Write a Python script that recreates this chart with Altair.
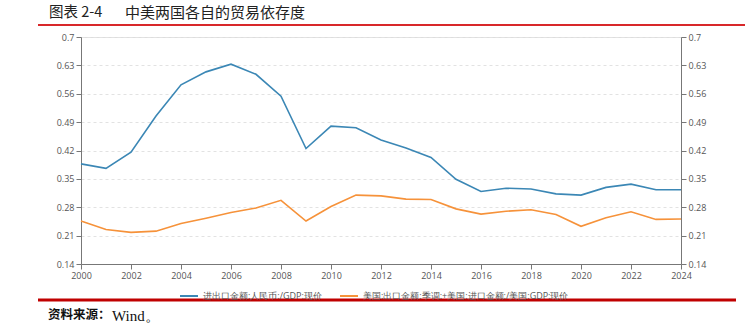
import altair as alt
import pandas as pd

years = list(range(2000, 2025))
china = [0.387, 0.376, 0.416, 0.505, 0.582, 0.614, 0.633, 0.608, 0.554, 0.425,
         0.480, 0.476, 0.446, 0.426, 0.403, 0.349, 0.319, 0.327, 0.325, 0.313,
         0.310, 0.329, 0.337, 0.323, 0.323]
usa = [0.246, 0.225, 0.218, 0.221, 0.240, 0.253, 0.267, 0.278, 0.297, 0.246,
       0.282, 0.310, 0.308, 0.300, 0.299, 0.276, 0.263, 0.270, 0.274, 0.262,
       0.233, 0.254, 0.269, 0.250, 0.251]
series_names = ["进出口金额:人民币:/GDP:现价", "美国:出口金额:季调:+美国:进口金额:/美国:GDP:现价"]
y_ticks = [0.14, 0.21, 0.28, 0.35, 0.42, 0.49, 0.56, 0.63, 0.7]
x_ticks = list(range(2000, 2025, 2))
title_label = "图表 2-4"
title_text = "中美两国各自的贸易依存度"
source_label = "资料来源："
source_value = "Wind。"

df = pd.DataFrame({
    "year": years * 2,
    "value": china + usa,
    "series": [series_names[0]] * len(years) + [series_names[1]] * len(years),
})

font = "Open Sans"
axis_common = dict(
    values=y_ticks, format=".2~f", labelFont=font, labelFontSize=9, labelColor="#555",
    tickColor="#777", domainColor="#777", tickSize=5, title=None, labelPadding=2,
    labelFlush=False,
)
yscale = alt.Scale(domain=[0.14, 0.7], nice=False, zero=False)
xenc = alt.X("year:Q", scale=alt.Scale(domain=[2000, 2024], nice=False, zero=False),
             axis=alt.Axis(values=x_ticks, format="d", labelFont=font, labelFontSize=9,
                           labelColor="#555", tickColor="#777", domainColor="#777",
                           tickSize=5, title=None, grid=False, labelPadding=2,
                           labelFlush=False))

lines = alt.Chart(df).mark_line(strokeWidth=1.6).encode(
    x=xenc,
    y=alt.Y("value:Q", scale=yscale,
            axis=alt.Axis(orient="left", grid=True, gridDash=[3, 3], gridColor="#e2e2e2",
                          **axis_common)),
    color=alt.Color("series:N", sort=series_names,
                    scale=alt.Scale(domain=series_names, range=["#3b87b5", "#f6923a"]),
                    legend=alt.Legend(orient="none", legendX=98, legendY=249, direction="horizontal",
                                      title=None, symbolType="stroke", symbolSize=324,
                                      symbolStrokeWidth=2, labelFont=font, labelFontSize=9,
                                      labelColor="#555", columnPadding=14, labelOffset=4,
                                      labelLimit=0)),
)

right = alt.Chart(df).mark_line(opacity=0).encode(
    x=xenc,
    y=alt.Y("value:Q", scale=yscale, axis=alt.Axis(orient="right", grid=False, **axis_common)),
    detail="series:N",
)

deco = pd.DataFrame({"t": [0]})
title1 = alt.Chart(pd.DataFrame({"t": [title_label]})).mark_text(
    align="left", baseline="middle", font="Noto Sans CJK SC", fontSize=14.5, color="#222"
).encode(x=alt.value(-32), y=alt.value(-24), text="t:N")
title2 = alt.Chart(pd.DataFrame({"t": [title_text]})).mark_text(
    align="left", baseline="middle", font="Noto Sans CJK SC", fontSize=15, color="#222"
).encode(x=alt.value(44), y=alt.value(-24), text="t:N")
top_rule = alt.Chart(deco).mark_rule(color="#d8282a", strokeWidth=2).encode(
    x=alt.value(-43), x2=alt.value(664), y=alt.value(-12))
bottom_rule = alt.Chart(deco).mark_rule(color="#c00000", strokeWidth=3).encode(
    x=alt.value(-43), x2=alt.value(655), y=alt.value(263))
source1 = alt.Chart(pd.DataFrame({"t": [source_label]})).mark_text(
    align="left", baseline="middle", font="Noto Sans CJK SC", fontSize=12.5, fontWeight="bold", color="#111"
).encode(x=alt.value(-33), y=alt.value(278), text="t:N")
source2 = alt.Chart(pd.DataFrame({"t": [source_value]})).mark_text(
    align="left", baseline="middle", font="Liberation Serif", fontSize=15, color="#111"
).encode(x=alt.value(31), y=alt.value(279), text="t:N")

chart = alt.layer(lines, right, title1, title2, top_rule, bottom_rule, source1, source2).resolve_scale(
    y="independent"
).properties(
    width=600, height=227,
    autosize=alt.AutoSizeParams(type="none"),
    padding={"left": 81, "top": 37, "right": 64, "bottom": 60},
).configure_view(stroke=None).configure(background="white")

chart.save("out.html", embed_options={"renderer": "svg", "actions": False})
